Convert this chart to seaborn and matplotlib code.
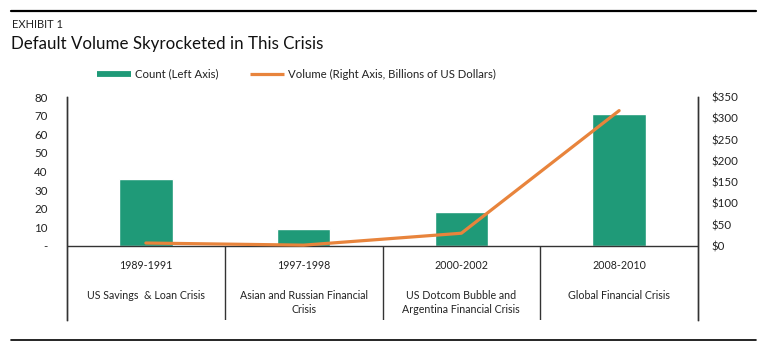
import numpy as np
import pandas as pd
import seaborn as sns
import matplotlib.pyplot as plt
from matplotlib.lines import Line2D

periods = ["1989-1991", "1997-1998", "2000-2002", "2008-2010"]
crises = ["US Savings  & Loan Crisis", "Asian and Russian Financial\nCrisis",
          "US Dotcom Bubble and\nArgentina Financial Crisis", "Global Financial Crisis"]
count = [36, 9, 18, 71]
volume = [7, 2, 30, 318]

green = "#1f9a78"
orange = "#e8843c"
dark = "#333333"

sns.set_theme(style="white")
plt.rcParams["font.family"] = ["Lato", "DejaVu Sans"]
plt.rcParams["text.color"] = "#222222"

fig = plt.figure(figsize=(7.66, 3.53), dpi=100)
ax = fig.add_axes([67 / 766, 1 - 320 / 353, (698 - 67) / 766, (320 - 97) / 353])

df = pd.DataFrame({"period": periods, "count": count, "volume": volume})
sns.barplot(data=df, x="period", y="count", color=green, width=0.34,
            saturation=1, ax=ax)

low = -74 / 1.8625
ax.set_xlim(-0.5, 3.5)
ax.set_ylim(low, 80)
ax.set_yticks(np.arange(0, 81, 10))
ax.set_yticklabels(["-"] + [str(v) for v in range(10, 81, 10)])
ax.set_xticks([])
ax.set_xlabel("")
ax.set_ylabel("")
ax.tick_params(axis="y", length=0, labelsize=8.3, pad=14, colors="#222222")

ax2 = ax.twinx()
sns.lineplot(x=np.arange(len(volume)), y=volume, color=orange, linewidth=2.3,
             ax=ax2)
ax2.set_ylim(low * 350 / 80, 350)
ax2.set_yticks(np.arange(0, 351, 50))
ax2.set_yticklabels(["$%d" % v for v in range(0, 351, 50)])
ax2.tick_params(axis="y", length=0, labelsize=8.3, pad=10, colors="#222222")
for a in (ax, ax2):
    a.spines["top"].set_visible(False)
    a.spines["bottom"].set_visible(False)
    for s in ("left", "right"):
        a.spines[s].set_color(dark)
        a.spines[s].set_linewidth(1)

# zero line and category table
ax.axhline(0, color=dark, lw=1)
ax.vlines([0.5, 1.5, 2.5], low, 0, color=dark, lw=1)
for i in range(len(periods)):
    ax.text(i, -10.3, periods[i], ha="center", va="center", fontsize=7.7)
    ax.text(i, -23.5, crises[i], ha="center", va="top", fontsize=7.7,
            linespacing=1.4)

# legend
handles = [Line2D([], [], color=green, lw=4.2, solid_capstyle="butt"),
           Line2D([], [], color=orange, lw=2.3, solid_capstyle="butt")]
fig.legend(handles, ["Count (Left Axis)", "Volume (Right Axis, Billions of US Dollars)"],
           loc="center", bbox_to_anchor=(0.387, 1 - 74 / 353), ncol=2,
           frameon=False, fontsize=8.2, handlelength=3.0, handletextpad=0.35,
           columnspacing=2.8)

# titles and rules
fig.text(12 / 766, 1 - 25 / 353, "EXHIBIT 1", fontsize=8, va="center")
fig.text(11 / 766, 1 - 44 / 353, "Default Volume Skyrocketed in This Crisis",
         fontsize=12.2, va="center", color="#111111")
fig.add_artist(Line2D([11 / 766, 756 / 766], [1 - 11 / 353] * 2, color="black", lw=1.6))
fig.add_artist(Line2D([11 / 766, 756 / 766], [1 - 340 / 353] * 2, color="black", lw=1.2))

fig.savefig("out.png", dpi=100)
